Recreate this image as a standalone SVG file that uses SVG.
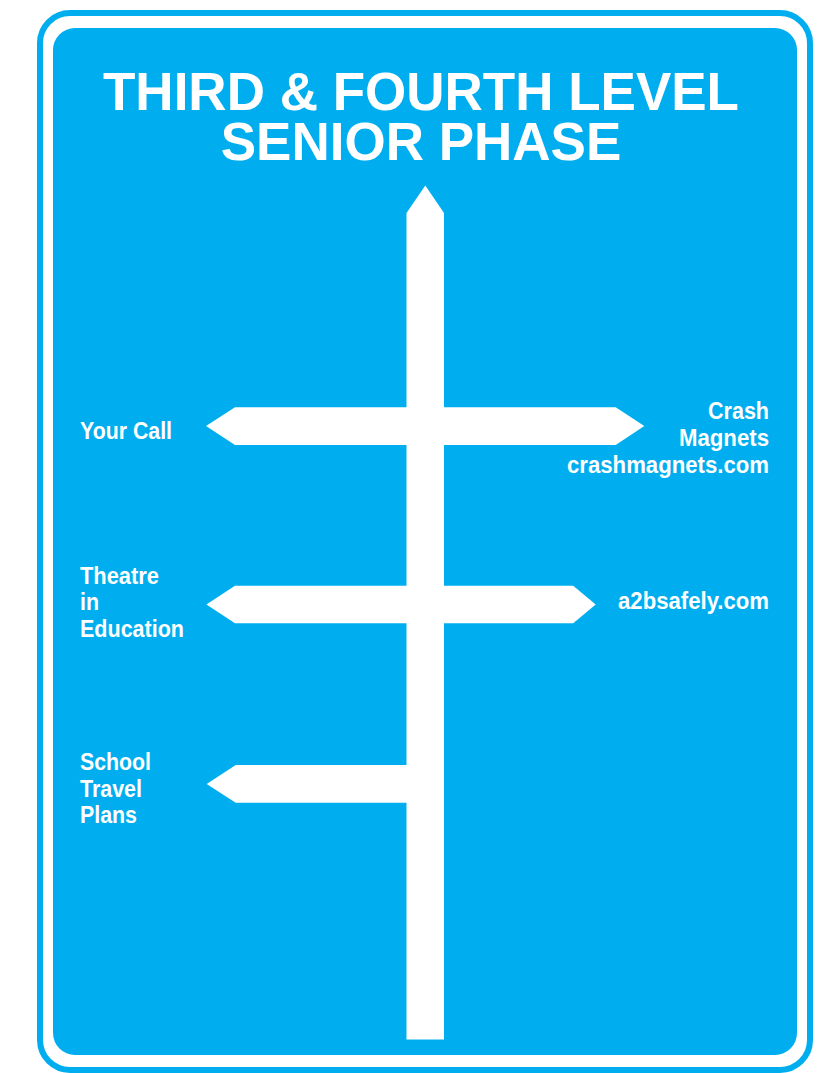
<svg xmlns="http://www.w3.org/2000/svg" width="829" height="1073" viewBox="0 0 829 1073">
  <style>
    .blue { fill: #00AEEF; }
    .frame { fill: #FFFFFF; stroke: #00AEEF; stroke-width: 6; }
    .sign { fill: #FFFFFF; }
    .title { font-family: "Liberation Sans", Arial, sans-serif; font-weight: bold; font-size: 53px; fill: #FFFFFF; text-anchor: middle; }
    .lbl { font-family: "Liberation Sans", Arial, sans-serif; font-weight: bold; font-size: 24.5px; fill: #FFFFFF; }
    .r { text-anchor: end; }
  </style>
  <rect width="829" height="1073" fill="#FFFFFF"/>
  <g id="board">
    <rect class="frame" x="40" y="13" width="770" height="1057" rx="30" ry="30"/>
    <rect class="blue" x="53" y="28" width="744" height="1027" rx="22" ry="22"/>
  </g>
  <g id="title">
    <text class="title" x="421" y="109.5">THIRD &amp; FOURTH LEVEL</text>
    <text class="title" x="421" y="160">SENIOR PHASE</text>
  </g>
  <g id="connectors">
    <polygon id="post" class="sign" points="406.5,213 425.3,185.5 444,213 444,1039.5 406.5,1039.5"/>
    <polygon id="arm-1" class="sign" points="206,426 235,407.3 615.7,407.3 644.3,426 615.7,445 235,445"/>
    <polygon id="arm-2" class="sign" points="206.4,604.5 235,585.7 573.2,585.7 595.7,604.5 573.2,623.3 235,623.3"/>
    <polygon id="arm-3" class="sign" points="206.7,784 235.7,765 444,765 444,802.7 235.7,802.7"/>
  </g>
  <g id="your-call">
    <text class="lbl" x="80" y="438.5" textLength="92" lengthAdjust="spacingAndGlyphs">Your Call</text>
  </g>
  <g id="crash-magnets">
    <text class="lbl r" x="769" y="418.5" textLength="61" lengthAdjust="spacingAndGlyphs">Crash</text>
    <text class="lbl r" x="769" y="445.5" textLength="90" lengthAdjust="spacingAndGlyphs">Magnets</text>
    <text class="lbl r" x="769" y="472.5" textLength="202" lengthAdjust="spacingAndGlyphs">crashmagnets.com</text>
  </g>
  <g id="theatre-in-education">
    <text class="lbl" x="80" y="583.5" textLength="79" lengthAdjust="spacingAndGlyphs">Theatre</text>
    <text class="lbl" x="80" y="610" textLength="19" lengthAdjust="spacingAndGlyphs">in</text>
    <text class="lbl" x="80" y="636.5" textLength="104" lengthAdjust="spacingAndGlyphs">Education</text>
  </g>
  <g id="a2bsafely">
    <text class="lbl r" x="769" y="608.5" textLength="151" lengthAdjust="spacingAndGlyphs">a2bsafely.com</text>
  </g>
  <g id="school-travel-plans">
    <text class="lbl" x="80" y="769.5" textLength="71" lengthAdjust="spacingAndGlyphs">School</text>
    <text class="lbl" x="80" y="796.5" textLength="62" lengthAdjust="spacingAndGlyphs">Travel</text>
    <text class="lbl" x="80" y="823" textLength="57" lengthAdjust="spacingAndGlyphs">Plans</text>
  </g>
</svg>
